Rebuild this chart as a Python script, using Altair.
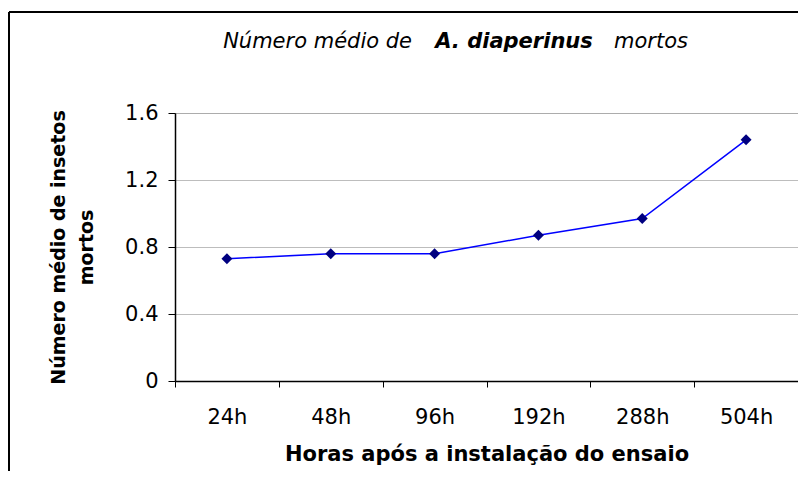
import altair as alt
import pandas as pd

hours = ["24h", "48h", "96h", "192h", "288h", "504h"]
mean_dead = [0.73, 0.76, 0.76, 0.87, 0.97, 1.44]
y_ticks = [0, 0.4, 0.8, 1.2, 1.6]

df = pd.DataFrame({"hora": hours, "media": mean_dead})
one = pd.DataFrame({"k": [0]})

FONT = "DejaVu Sans"
W, H = 623, 268

x_enc = alt.X("hora:N", sort=hours,
              scale=alt.Scale(paddingInner=0, paddingOuter=0),
              axis=alt.Axis(title="Horas após a instalação do ensaio",
                            labelAngle=0, tickBand="extent", tickSize=6,
                            labelPadding=19, titlePadding=16,
                            labelFontSize=21, titleFontSize=21,
                            labelFont=FONT, titleFont=FONT,
                            titleFontWeight="bold", labelColor="black",
                            titleColor="black", domainColor="black",
                            tickColor="black", domainWidth=1.5, grid=False))
y_enc = alt.Y("media:Q",
              scale=alt.Scale(domain=[0, 1.6], nice=False),
              axis=alt.Axis(title=["Número médio de insetos", "mortos"],
                            values=y_ticks, format="~g", tickSize=7,
                            labelPadding=10, titlePadding=28,
                            labelFontSize=21, titleFontSize=19,
                            labelFont=FONT, titleFont=FONT,
                            titleFontWeight="bold", titleLineHeight=28,
                            labelColor="black", titleColor="black",
                            domainColor="black", tickColor="black",
                            domainWidth=1.5, grid=True, gridColor="#7a7a7a",
                            gridDash=[1, 1], gridWidth=1))

line = alt.Chart(df).mark_line(color="#0000FF", strokeWidth=1.5).encode(x=x_enc, y=y_enc)
pts = alt.Chart(df).mark_point(shape="diamond", filled=True, color="#000080",
                               size=120, opacity=1).encode(x=alt.X("hora:N", sort=hours), y="media:Q")

title_style = dict(font=FONT, fontSize=21, fontStyle="italic", color="black", baseline="middle")
t1 = alt.Chart(one).mark_text(align="right", **title_style).encode(
    x=alt.value(237), y=alt.value(-71), text=alt.value("Número médio de"))
t2 = alt.Chart(one).mark_text(align="center", fontWeight="bold", **title_style).encode(
    x=alt.value(339), y=alt.value(-71), text=alt.value("A. diaperinus"))
t3 = alt.Chart(one).mark_text(align="left", **title_style).encode(
    x=alt.value(439), y=alt.value(-71), text=alt.value("mortos"))

top_border = alt.Chart(one).mark_rule(color="black", strokeWidth=2).encode(
    x=alt.value(-166), x2=alt.value(700), y=alt.value(-101))
left_border = alt.Chart(one).mark_rule(color="black", strokeWidth=2).encode(
    x=alt.value(-166), y=alt.value(-101), y2=alt.value(400))

chart = alt.layer(line, pts, t1, t2, t3, top_border, left_border).properties(
    width=W, height=H,
    autosize=alt.AutoSizeParams(type="none"),
    padding={"left": 167, "top": 105, "right": 0, "bottom": 90},
).configure_view(stroke=None).configure(background="white")

chart.save("out.html", embed_options={"renderer": "svg", "actions": False})
